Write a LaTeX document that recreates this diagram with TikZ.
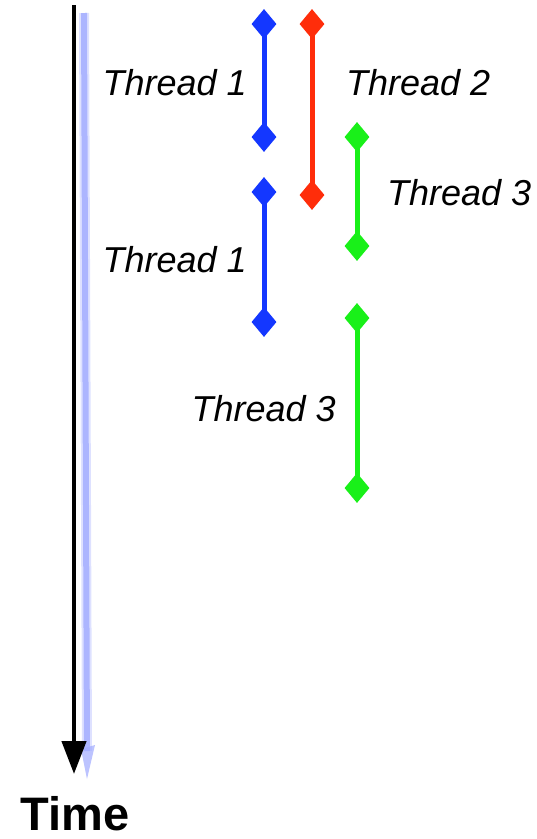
\documentclass[tikz,border=0pt]{standalone}
\usepackage{fontspec}
\setmainfont{Liberation Sans}
\usetikzlibrary{shapes.geometric,arrows.meta}
\definecolor{tblue}{RGB}{20,55,255}
\definecolor{tred}{RGB}{255,45,10}
\definecolor{tgreen}{RGB}{25,240,25}
\definecolor{shadowblue}{RGB}{160,170,255}
\tikzset{
  pin/.style={diamond, fill=#1, draw=none, minimum width=25pt, minimum height=30pt, inner sep=0pt},
  bar/.style={draw=#1, line width=5pt},
  lbl/.style={font=\fontsize{36}{42}\selectfont\itshape, inner sep=0pt},
}
\begin{document}
\begin{tikzpicture}[x=1pt,y=-1pt]
\useasboundingbox (0,0) rectangle (537,839);
% time axis with soft shadow
\coordinate (st) at (84,13);
\coordinate (se) at (87,779);
\draw[shadowblue, opacity=0.35, line width=10pt] (st) -- ([yshift=28pt]se);
\draw[shadowblue, opacity=0.8, line width=6pt] (st) -- ([yshift=28pt]se);
\fill[shadowblue, opacity=0.7] ([xshift=-6pt,yshift=30pt]se) -- (se) -- ([xshift=8pt,yshift=34pt]se) -- cycle;
\coordinate (ts) at (74,5);
\coordinate (te) at (74,774);
\draw[line width=4.5pt, -{Triangle[length=33pt,width=24pt]}] (ts) -- (te);
\node[font=\fontsize{47}{54}\selectfont\bfseries, anchor=base, inner sep=0pt] (time) at (75,830) {Time};
% threads
\node[pin=tblue] (b1t) at (264,24) {};
\node[pin=tblue] (b1b) at (264,137) {};
\draw[bar=tblue] (b1t.center) -- (b1b.center);
\node[pin=tred] (r1t) at (312,24) {};
\node[pin=tred] (r1b) at (312,195) {};
\draw[bar=tred] (r1t.center) -- (r1b.center);
\node[pin=tgreen] (g1t) at (357,137) {};
\node[pin=tgreen] (g1b) at (357,246) {};
\draw[bar=tgreen] (g1t.center) -- (g1b.center);
\node[pin=tblue] (b2t) at (264,192) {};
\node[pin=tblue] (b2b) at (264,322) {};
\draw[bar=tblue] (b2t.center) -- (b2b.center);
\node[pin=tgreen] (g2t) at (357,318) {};
\node[pin=tgreen] (g2b) at (357,488) {};
\draw[bar=tgreen] (g2t.center) -- (g2b.center);
% labels
\node[lbl, anchor=base east] (l1) at (247,95) {Thread 1};
\node[lbl, anchor=base west] (l2) at (346,95) {Thread 2};
\node[lbl, anchor=base west] (l3) at (387,205) {Thread 3};
\node[lbl, anchor=base east] (l4) at (247,272) {Thread 1};
\node[lbl, anchor=base east] (l5) at (336,421) {Thread 3};
\end{tikzpicture}
\end{document}
